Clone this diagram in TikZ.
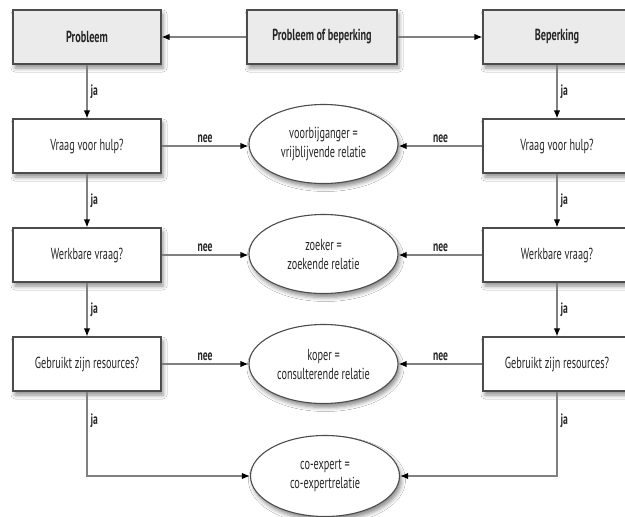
\documentclass[tikz,border=0pt]{standalone}
\usepackage{fontspec}
\setmainfont{PT Sans}[FakeStretch=0.64]
\usetikzlibrary{arrows.meta,shapes.geometric,shadows.blur}
\begin{document}
\begin{tikzpicture}[x=1pt,y=-1pt,
  shad/.style={blur shadow={shadow xshift=2pt,shadow yshift=-4pt,shadow blur radius=4pt,shadow opacity=45}},
  box/.style={shad,draw=black!70,line width=1.1pt,fill=white,minimum width=148pt,minimum height=54pt,inner sep=2pt,text=black!85,font=\fontsize{16}{18}\selectfont},
  topbox/.style={box,fill=black!8,font=\bfseries\fontsize{16}{18}\selectfont},
  oval/.style={shad,ellipse,draw=black!70,line width=1.1pt,fill=white,minimum width=149pt,minimum height=79pt,inner sep=0pt,align=center,text=black!85,font=\fontsize{16}{19}\selectfont},
  conn/.style={draw=black!50,line width=1.3pt,-{Latex[length=8pt,width=6.5pt,color=black]}},
  lab/.style={text=black!85,font=\bfseries\fontsize{15}{17}\selectfont,inner sep=3pt}]
\useasboundingbox (0,0) rectangle (625,517);
\fill[white] (0,0) rectangle (625,517);
% top row
\node[topbox] (pr) at (87,37) {Probleem};
\node[topbox,minimum width=150pt] (pb) at (322,37) {Probleem of beperking};
\node[topbox] (be) at (557,37) {Beperking};
% left column
\node[box] (lv) at (87,146) {Vraag voor hulp?};
\node[box] (lw) at (87,255) {Werkbare vraag?};
\node[box] (lg) at (87,364) {Gebruikt zijn resources?};
% right column
\node[box] (rv) at (557,146) {Vraag voor hulp?};
\node[box] (rw) at (557,255) {Werkbare vraag?};
\node[box] (rg) at (557,364) {Gebruikt zijn resources?};
% ellipses
\node[oval] (e1) at (323.5,144) {voorbijganger =\\vrijblijvende relatie};
\node[oval] (e2) at (323.5,254) {zoeker =\\zoekende relatie};
\node[oval] (e3) at (323.5,364) {koper =\\consulterende relatie};
\node[oval,minimum height=81pt] (e4) at (325,476) {co-expert =\\co-expertrelatie};
% connectors
\draw[conn] (pb) -- (pr);
\draw[conn] (pb) -- (be);
\draw[conn] (pr) -- node[lab,right]{ja} (lv);
\draw[conn] (lv) -- node[lab,right]{ja} (lw);
\draw[conn] (lw) -- node[lab,right]{ja} (lg);
\draw[conn] (be) -- node[lab,right]{ja} (rv);
\draw[conn] (rv) -- node[lab,right]{ja} (rw);
\draw[conn] (rw) -- node[lab,right]{ja} (rg);
\draw[conn] (lv.east) -- node[lab,above]{nee} (lv.east -| e1.west);
\draw[conn] (lw.east) -- node[lab,above]{nee} (lw.east -| e2.west);
\draw[conn] (lg.east) -- node[lab,above]{nee} (lg.east -| e3.west);
\draw[conn] (rv.west) -- node[lab,above]{nee} (rv.west -| e1.east);
\draw[conn] (rw.west) -- node[lab,above]{nee} (rw.west -| e2.east);
\draw[conn] (rg.west) -- node[lab,above]{nee} (rg.west -| e3.east);
\draw[conn] (lg.south) -- node[lab,right,pos=0.35]{ja} (lg.south |- e4.west) -- (e4.west);
\draw[conn] (rg.south) -- node[lab,right,pos=0.35]{ja} (rg.south |- e4.east) -- (e4.east);
\end{tikzpicture}
\end{document}
